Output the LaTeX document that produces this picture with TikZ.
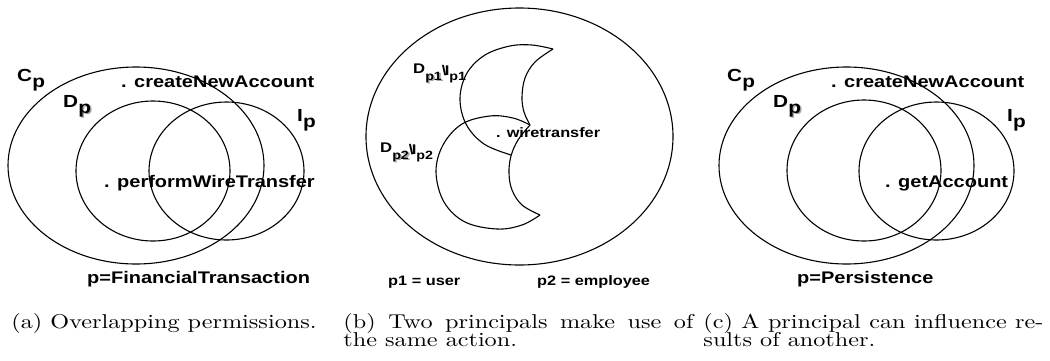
\documentclass[tikz,border=0pt]{standalone}
\usepackage{fontspec}
\newfontfamily\hv{Liberation Sans}
\newcommand\sbp[1]{\raisebox{-6pt}{#1}}
\newcommand\shp[1]{\leavevmode\rlap{\kern1.3pt\raisebox{-1.3pt}{\color{black!35}#1}}#1}
\begin{document}
\begin{tikzpicture}[x=1pt,y=-1pt,
  set/.style={line width=1.1pt, draw=black},
  lab/.style={inner sep=0pt, anchor=base west, xscale=1.19, font=\hv\bfseries\fontsize{16.8}{17}\selectfont},
  biglab/.style={inner sep=0pt, anchor=base west, xscale=1.19, font=\hv\bfseries\fontsize{17.5}{18}\selectfont},
  smlab/.style={inner sep=0pt, anchor=base west, xscale=1.19, font=\hv\bfseries\fontsize{13.7}{14}\selectfont},
  captext/.style={inner sep=0pt, anchor=base west, xscale=2.42, yscale=2, font=\fontsize{10}{12}\selectfont}]
\useasboundingbox (0,0) rectangle (1050,360);
\fill[white] (0,0) rectangle (1050,360);
% ---------- panel (a)
\draw[set] (136,165.5) ellipse [x radius=128pt, y radius=98.5pt];
\draw[set] (153,171) ellipse [x radius=77pt, y radius=70pt];
\draw[set] (226.5,171) ellipse [x radius=77.5pt, y radius=69pt];
\node[biglab] (aC) at (17,81) {C\sbp{p}};
\node[biglab] (aD) at (63,107) {D\sbp{\shp{p}}};
\node[biglab] (aI) at (297,121) {I\sbp{p}};
\node[lab] (aNew) at (121,87) {. createNewAccount};
\node[lab] (aWire) at (104,187) {. performWireTransfer};
\node[lab] (aP) at (87,283) {p=FinancialTransaction};
% ---------- panel (b)
\draw[set] (519.5,136.5) ellipse [x radius=153.5pt, y radius=128.5pt];
% upper crescent
\draw[set] plot[smooth, tension=0.6] coordinates {(553,49) (532,45) (510,46) (485,55) (467,73) (460,98) (466,124) (484,144) (511,155)};
\draw[set] plot[smooth, tension=0.6] coordinates {(553,49) (535,62) (525,78) (522,97) (524,112) (530,125)};
% lower crescent
\draw[set] plot[smooth, tension=0.6] coordinates {(530,125) (513,118) (490,116) (462,124) (443,145) (436,172) (444,202) (465,222) (497,229) (522,225) (540,215)};
\draw[set] plot[smooth, tension=0.6] coordinates {(540,215) (522,205) (512,190) (509,173) (511,156) (518,140) (530,125)};
\node[smlab, font=\hv\bfseries\fontsize{14}{14}\selectfont] (bD1) at (413,73)
  {D\raisebox{-7pt}{\fontsize{12}{12}\selectfont\shp{p1}}\raisebox{-2pt}{\textbackslash\kern-1.5pt I}\raisebox{-7pt}{\fontsize{12}{12}\selectfont p1}};
\node[smlab, font=\hv\bfseries\fontsize{14}{14}\selectfont] (bD2) at (380,152)
  {D\raisebox{-7pt}{\fontsize{12}{12}\selectfont\shp{p2}}\raisebox{-2pt}{\textbackslash\kern-1.5pt I}\raisebox{-7pt}{\fontsize{12}{12}\selectfont p2}};
\node[smlab] (bWire) at (496,137) {. wiretransfer};
\node[smlab] (bU) at (388,285) {p1 = user};
\node[smlab] (bE) at (537,285) {p2 = employee};
% ---------- panel (c)
\draw[set] (846.5,165.5) ellipse [x radius=127.5pt, y radius=98.5pt];
\draw[set] (864,170.5) ellipse [x radius=77pt, y radius=70.5pt];
\draw[set] (936.5,171) ellipse [x radius=77.5pt, y radius=69pt];
\node[biglab] (cC) at (727,81) {C\sbp{p}};
\node[biglab] (cD) at (773,107) {D\sbp{\shp{p}}};
\node[biglab] (cI) at (1007,121) {I\sbp{p}};
\node[lab] (cNew) at (831,87) {. createNewAccount};
\node[lab] (cGet) at (885,187) {. getAccount};
\node[lab] (cP) at (797,283) {p=Persistence};
% ---------- captions
\node[captext] (capA) at (11,328) {(a) Overlapping permissions.};
\node[captext] (capB1) at (343,328) {\makebox[144.6pt][s]{(b) Two principals make use of}};
\node[captext] (capB2) at (343,346) {the same action.};
\node[captext] (capC1) at (703,328) {\makebox[140.5pt][s]{(c) A principal can influence re-}};
\node[captext] (capC2) at (703,346) {sults of another.};
\end{tikzpicture}
\end{document}
